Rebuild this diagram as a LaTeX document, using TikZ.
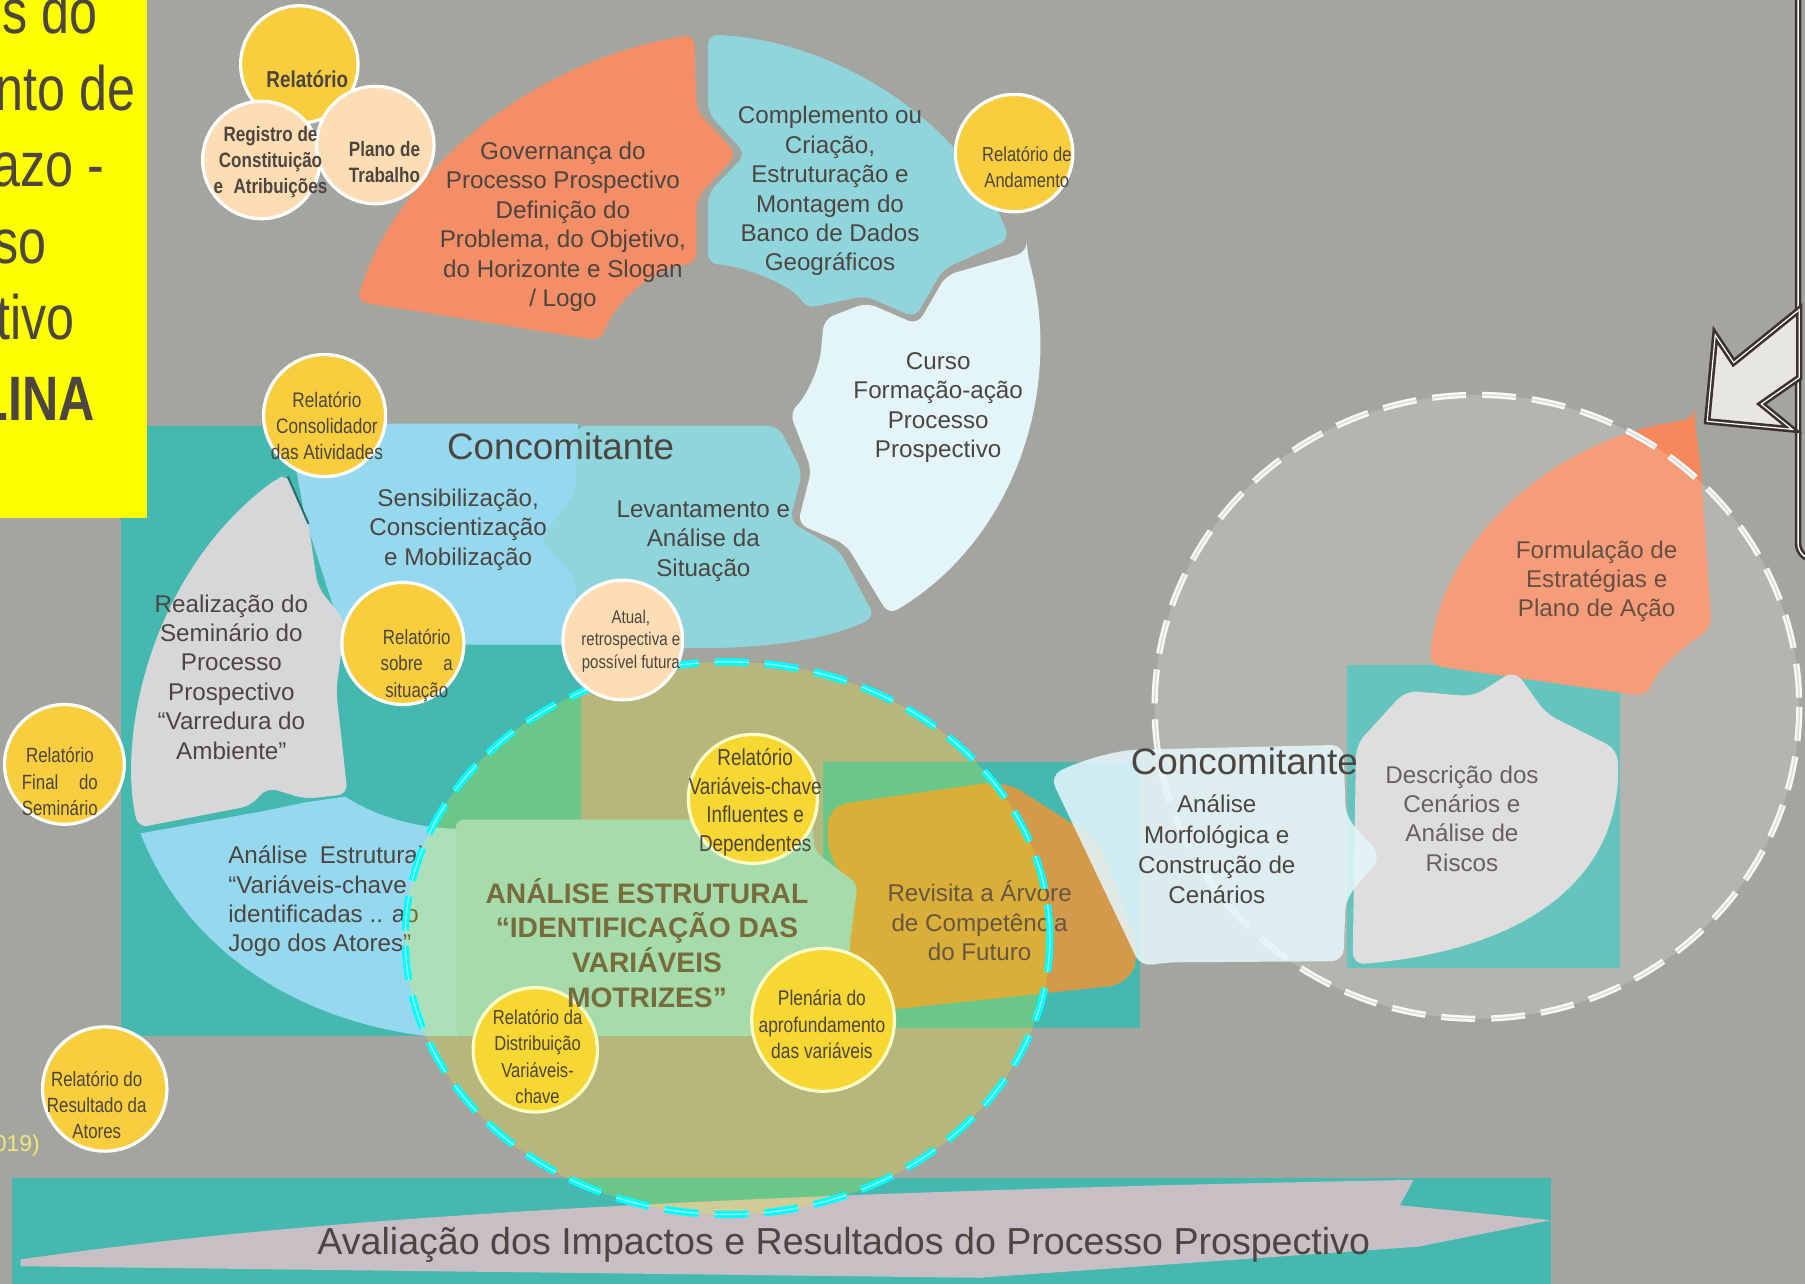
\documentclass[tikz,border=0pt]{standalone}
\usepackage{fontspec}
\setmainfont{Liberation Sans}
\newfontfamily\narrowfont[FakeStretch=0.82]{Liberation Sans}
\newfontfamily\capafont[FakeStretch=0.8]{Liberation Sans}
\usetikzlibrary{positioning}

\definecolor{fundo}{HTML}{A5A59F}
\definecolor{texto}{HTML}{4D4540}
\definecolor{laranja}{HTML}{F48E66}
\definecolor{turquesa}{HTML}{90D4DC}
\definecolor{gelo}{HTML}{E3F5F9}
\definecolor{verdeagua}{HTML}{45B8B0}
\definecolor{celeste}{HTML}{96D9EF}
\definecolor{cinzaclaro}{HTML}{D7D7D9}
\definecolor{amarelo}{HTML}{FFFF00}
\definecolor{tinta}{HTML}{F6FA00}
\definecolor{ciano}{HTML}{00FFFF}
\definecolor{ouro}{HTML}{F8CE3F}
\definecolor{pessego}{HTML}{FDDDB3}
\definecolor{caramelo}{HTML}{D29A4A}
\definecolor{salmao}{HTML}{F4875C}
\definecolor{rosado}{HTML}{C7BFC4}
\definecolor{oliva}{HTML}{786C3C}
\definecolor{moldura}{HTML}{3A3330}
\definecolor{seta}{HTML}{E8E6E3}
\definecolor{branco}{HTML}{FFFFFF}
\definecolor{anotacao}{HTML}{EFE77C}

\tikzset{
  doc/.style={circle, draw=branco, line width=1.6pt, inner sep=0pt,
    minimum size=#1*1.1512pt},
  rotulo/.style={align=center, text=texto, inner sep=0pt,
    font=\fontsize{12.1}{14.7}\selectfont},
  nota/.style={align=center, text=texto, inner sep=0pt,
    font=\narrowfont\fontsize{10.3}{13.2}\selectfont},
  capa/.style={anchor=base east, text=texto, inner sep=0pt,
    font=\capafont\fontsize{31.4}{35}\selectfont},
  bloco/.style={rounded corners=5pt},
  tracejado/.style={line width=1.2pt, double distance=0.7pt,
    dash pattern=on 17pt off 8pt}
}

\begin{document}
\begin{tikzpicture}[x=0.5756pt, y=-0.5756pt]
\useasboundingbox (0,0) rectangle (1568,1115);
\fill[fundo] (0,0) rectangle (1568,1115);

% faixa de avaliacao
\fill[verdeagua] (10,1023) rectangle (1347,1120);
\fill[rosado] (18,1094) .. controls (200,1068) and (500,1038) .. (1228,1025)
  -- (1216,1047) -- (1347,1060) -- (1232,1083) -- (851,1110) -- (18,1100) -- cycle;
\node[rotulo, font=\fontsize{18.8}{20}\selectfont] (aval) at (733,1081)
  {Avaliação dos Impactos e Resultados do Processo Prospectivo};

% bloco da esquerda
\fill[verdeagua] (105,370) rectangle (505,900);
\fill[celeste] (250,368) -- (502,368) -- (502,560) -- (300,560) -- (265,450) -- cycle;
\node[rotulo] (sens) at (398,460) {Sensibilização,\\Conscientização\\e Mobilização};
\fill[celeste] (122,724) -- (232,704) -- (265,697) -- (300,692)
  .. controls (330,712) and (370,720) .. (400,720) -- (400,900) -- (370,900)
  .. controls (250,885) and (160,820) .. (122,724) -- cycle;
\fill[cinzaclaro, bloco] (120,719) .. controls (102,640) and (130,500) .. (240,416)
  -- (250,412) -- (268,455) -- (276,510) -- (300,540) -- (292,600) -- (302,690) -- (265,694)
  -- (232,684) -- (218,700) -- cycle;
\draw[verdeagua!60!black, line width=1pt] (250,414) -- (268,455);
\node[rotulo] (real) at (201,588) {Realização do\\Seminário do\\Processo\\Prospectivo\\“Varredura do\\Ambiente”};
\node[rotulo, align=left, anchor=west] (anal) at (198,783)
  {Análise\enspace Estrutural\\“Variáveis-chave\\identificadas .. ao\\Jogo dos Atores”};

% anel superior
\fill[laranja, bloco] (310,262) .. controls (340,160) and (450,55) .. (603,30)
  -- (605,96) -- (640,134) -- (605,172) -- (605,229)
  .. controls (570,232) and (535,260) .. (522,296) -- cycle;
\fill[turquesa, bloco] (615,30) .. controls (730,35) and (840,110) .. (877,208)
  -- (819,234) -- (795,276) -- (752,257) -- (700,268)
  .. controls (690,250) and (652,232) .. (615,229) -- (615,168) -- (648,134) -- (615,98) -- cycle;
\fill[gelo, bloco] (892,219) -- (822,239) -- (797,282) -- (753,263) -- (716,277) -- (714,295)
  .. controls (712,320) and (700,345) .. (686,358) -- (705,408) -- (693,455) -- (735,473)
  -- (772,534) .. controls (880,470) and (925,340) .. (892,219) -- cycle;
\fill[turquesa, bloco] (500,370) -- (676,370) -- (697,410) -- (686,453) -- (729,478) -- (760,536)
  .. controls (720,555) and (670,563) .. (600,563) -- (500,563) -- (500,501) -- (469,469)
  -- (500,428) -- cycle;
\node[rotulo] (gov) at (489,197) {Governança do\\Processo Prospectivo\\Definição do\\Problema, do Objetivo,\\do Horizonte e Slogan\\/ Logo};
\node[rotulo] (comp) at (721,166) {Complemento ou\\Criação,\\Estruturação e\\Montagem do\\Banco de Dados\\Geográficos};
\node[rotulo] (curso) at (815,354) {Curso\\Formação-ação\\Processo\\Prospectivo};
\node[rotulo] (lev) at (611,470) {Levantamento e\\Análise da\\Situação};
\node[rotulo, font=\fontsize{18.4}{20}\selectfont] (conc1) at (487,388) {Concomitante};

% bloco amarelo
\fill[amarelo] (0,0) rectangle (128,450);
\begin{scope}
  \clip (0,0) rectangle (128,450);
  \node[capa] (c1) at (85,29) {s do};
  \node[capa] (c2) at (118,96) {nto de};
  \node[capa] (c3) at (91,162) {azo -};
  \node[capa] (c4) at (41,229) {so};
  \node[capa] (c5) at (65,295) {tivo};
  \node[capa, font=\capafont\bfseries\fontsize{31.4}{35}\selectfont] (c6) at (83,365) {LINA};
\end{scope}

% bloco do meio
\fill[verdeagua] (715,662) rectangle (990,893);
\fill[caramelo, rounded corners=10pt] (719,700) -- (873,678) -- (954,730) -- (990,825)
  -- (981,855) -- (736,881) -- (736,819) -- (745,775) -- (719,745) -- cycle;
\fill[turquesa, rounded corners=4pt] (396,712) -- (705,712) -- (708,740) -- (745,768)
  -- (738,822) -- (738,900) -- (396,900) -- cycle;

% documentos dentro da elipse
\node[doc=56, fill=ouro] (var) at (654,694) {};
\node[doc=54, fill=ouro] (dist) at (465,912) {};
\node[doc=62, fill=ouro] (plen) at (715,886) {};

% elipse da analise estrutural
\fill[tinta, opacity=0.22] (632,815) ellipse [x radius=280, y radius=240];
\node[rotulo, text=oliva, font=\bfseries\fontsize{14.1}{17.3}\selectfont] (ae) at (562,819)
  {ANÁLISE ESTRUTURAL\\“IDENTIFICAÇÃO DAS\\VARIÁVEIS\\MOTRIZES”};
\node[rotulo, text=texto!80!caramelo] (rev) at (851,800) {Revisita a Árvore\\de Competência\\do Futuro};
\node[nota, font=\narrowfont\fontsize{11.5}{14.4}\selectfont] (varT) at (656,697)
  {Relatório\\Variáveis-chave\\Influentes e\\Dependentes};
\node[nota, font=\narrowfont\fontsize{10.1}{13.2}\selectfont] (distT) at (467,918)
  {Relatório da\\Distribuição\\Variáveis-\\chave};
\node[nota, font=\narrowfont\fontsize{10.6}{13.2}\selectfont] (plenT) at (714,890)
  {Plenária do\\aprofundamento\\das variáveis};
\draw[tracejado, line width=1.5pt, double distance=0.6pt, draw=ciano, double=ciano!35!branco]
  (632,815) ellipse [x radius=280, y radius=240];

% documentos
\node[doc=52, fill=pessego] (atual) at (541,556) {};
\node[doc=53, fill=ouro] (sit) at (350,559) {};
\node[doc=53, fill=ouro] (cons) at (282,361) {};
\node[doc=52, fill=ouro] (fin) at (56,664) {};
\node[doc=54, fill=ouro] (res) at (91,946) {};
\node[doc=51, fill=ouro] (rel) at (260,56) {};
\node[doc=51, fill=pessego] (reg) at (227,139) {};
\node[doc=51, fill=pessego] (plano) at (326,126) {};
\node[doc=51, fill=ouro] (and) at (881,133) {};

\node[nota, font=\narrowfont\fontsize{9.2}{11.2}\selectfont] (atualT) at (548,557)
  {Atual,\\retrospectiva e\\possível futura};
\node[nota] (sitT) at (362,578) {Relatório\\sobre\quad a\\situação};
\node[nota, font=\narrowfont\fontsize{10.5}{13.2}\selectfont] (consT) at (284,370)
  {Relatório\\Consolidador\\das Atividades};
\node[nota] (finT) at (52,679) {Relatório\\Final\quad do\\Seminário};
\node[nota] (resT) at (84,960) {Relatório do\\Resultado da\\Atores};
\node[nota, font=\narrowfont\bfseries\fontsize{11.5}{13}\selectfont] (relT) at (267,69) {Relatório};
\node[nota, font=\narrowfont\bfseries\fontsize{10.4}{12.9}\selectfont] (regT) at (235,141)
  {Registro de\\Constituição\\e\enspace Atribuições};
\node[nota, font=\narrowfont\bfseries\fontsize{10.4}{12.9}\selectfont] (planoT) at (334,141)
  {Plano de\\Trabalho};
\node[nota, font=\narrowfont\fontsize{10.1}{13.2}\selectfont] (andT) at (892,145)
  {Relatório de\\Andamento};

% circulo dos cenarios
\fill[verdeagua] (1170,578) rectangle (1407,841);
\fill[salmao, rounded corners=6pt] (1472,364) -- (1477,402) -- (1487,546)
  .. controls (1465,560) and (1440,580) .. (1431,605) -- (1242,578)
  .. controls (1250,470) and (1350,380) .. (1472,364) -- cycle;
\fill[cinzaclaro, rounded corners=6pt] (1178,647) -- (1221,600) -- (1280,605) -- (1316,582)
  -- (1343,620) -- (1405,651) .. controls (1410,760) and (1330,825) .. (1175,838) -- cycle;
\fill[branco, opacity=0.18] (1283,614) ellipse [x radius=280, y radius=271];
\draw[tracejado, draw=branco!92!fundo, double=fundo!40!branco] (1283,614) ellipse [x radius=280, y radius=271];
\fill[gelo, opacity=0.88, rounded corners=6pt] (912,674) .. controls (940,660) and (970,652) .. (996,651)
  -- (1167,647) -- (1169,709) -- (1200,744) -- (1169,781) -- (1167,835) -- (1012,836)
  -- (991,840) -- cycle;
\node[rotulo, font=\fontsize{18.4}{20}\selectfont] (conc2) at (1081,661) {Concomitante};
\node[rotulo, font=\fontsize{12.1}{15.2}\selectfont] (morf) at (1057,738)
  {Análise\\Morfológica e\\Construção de\\Cenários};
\node[rotulo, text=texto!85!branco] (desc) at (1270,711) {Descrição dos\\Cenários e\\Análise de\\Riscos};
\node[rotulo, text=texto!85!salmao] (form) at (1387,505) {Formulação de\\Estratégias e\\Plano de Ação};

% seta e moldura
\draw[moldura, line width=1.3pt, double=branco, double distance=0.7pt, rounded corners=8pt]
  (1562,-10) -- (1562,486) -- (1600,486);
\filldraw[fill=seta, draw=moldura, line width=1.3pt, double=branco, double distance=0.6pt]
  (1483,366) -- (1490,291) -- (1506,315) -- (1563,269) -- (1563,328) -- (1530,351)
  -- (1557,373) -- cycle;

\node[anchor=base east, text=anotacao, inner sep=0pt, font=\fontsize{11.5}{13}\selectfont]
  (ano) at (35,1000) {019)};
\end{tikzpicture}
\end{document}
